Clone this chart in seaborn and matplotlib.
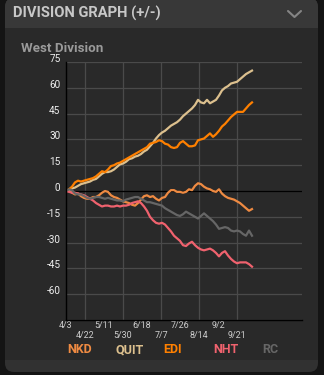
import matplotlib
matplotlib.use("Agg")
import matplotlib.pyplot as plt
import matplotlib.transforms as mtransforms
from matplotlib.patches import FancyBboxPatch, Rectangle
from matplotlib.lines import Line2D
import numpy as np
import pandas as pd
import seaborn as sns

plt.rcParams['font.family'] = ['Roboto', 'DejaVu Sans']

# ---------------- data ----------------
days = list(range(0, 187, 3))  # days since 4/3
teams = ['NKD', 'QUIT', 'EDI', 'NHT', 'RC']
team_colors = ['#ee8a42', '#dcc08e', '#ff8000', '#f0626e', '#666666']

nkd = [0, 0.5, -1, -2, -1.5, -3, -4, -4.5, -4.5, -3.5,
       -3.5, -2.5, -1, 0, -0.5, -2.5, -3.5, -4, -5, -6,
       -6.5, -7, -8, -8.5, -7, -5, -3, -2.5, -3.5, -3,
       -4.5, -5.5, -4, -3.5, -1, 0.5, 0.5, -0.5, -0.5, -1,
       -0.5, 1, 0.5, 3, 4.5, 4, 2.5, 1.5, 1, 0,
       -0.5, 1, -1.5, -3, -4, -4.5, -5, -6, -7, -8.5,
       -10, -11.5, -10.5]
quit_ = [0, 0.5, 1.5, 2, 3, 4, 4.5, 5, 5.5, 6.5,
         7, 8.5, 10, 11, 11, 11.5, 12.5, 14, 15.5, 16,
         17, 18.5, 19, 20, 20.5, 21.5, 23, 24, 26, 28,
         30.5, 32.5, 34, 35, 36.5, 38, 39, 40, 41.5, 43.5,
         45, 46.5, 48, 50, 53, 51.5, 51, 53, 51, 52,
         53, 55.5, 58.5, 60, 61, 62.5, 63, 63.5, 65, 66.5,
         68, 69, 70]
edi = [0, 1, 2.5, 5, 6, 5.5, 6, 6.5, 7, 7.5,
       8.5, 10, 11.5, 11, 12.5, 14.5, 15, 16, 16.5, 17.5,
       18.5, 19.5, 20.5, 21.5, 22.5, 23.5, 24.5, 25.5, 27.5, 28,
       28.5, 29.5, 29, 27.5, 27, 25.5, 25, 25.5, 28, 29,
       27.5, 26, 26, 26.5, 29.5, 30, 30.5, 32, 33.5, 31.5,
       33, 35, 37.5, 39, 41, 43, 44.5, 46, 46, 46,
       48, 50, 51.5]
nht = [0, -0.5, -1, -1, -1.5, -2, -2.5, -3.5, -4.5, -5.5,
       -7, -8, -9, -8.5, -8.5, -9, -9, -8.5, -9, -8.5,
       -8.5, -8, -7, -6.5, -6, -7, -9, -11.5, -15, -17,
       -18.5, -19, -18.5, -19.5, -21.5, -23.5, -26, -27.5, -29, -31.5,
       -32, -30.5, -29.5, -31.5, -33, -34, -34.5, -34, -33.5, -34.5,
       -36, -38, -36, -35, -37.5, -39.5, -41, -42, -41.5, -41.5,
       -41.5, -42.5, -44]
rc = [0, 1, 0.5, -1.5, -2, -2, -3, -4, -4.5, -4,
      -3.5, -3.5, -4, -4.5, -4, -4.5, -5, -5.5, -5.5, -6,
      -5, -4.5, -4, -3.5, -3.5, -4.5, -5.5, -6.5, -6.5, -7,
      -7.5, -8, -8.5, -10, -11, -12, -13, -14, -14.5, -13.5,
      -12, -13, -14, -15, -16, -14.5, -13, -14.5, -16, -17.5,
      -19.5, -22, -21.5, -21, -21.5, -23, -23.5, -23, -23.5, -25,
      -26, -23, -26]

tick_days = [0, 19, 38, 57, 76, 95, 114, 133, 152, 171]
tick_labels = ['4/3', '4/22', '5/11', '5/30', '6/18', '7/7', '7/26', '8/14', '9/2', '9/21']
grid_days = [19, 57, 95, 133, 171]
y_ticks = [-60, -45, -30, -15, 0, 15, 30, 45, 60, 75]

series = {'NKD': nkd, 'QUIT': quit_, 'EDI': edi, 'NHT': nht, 'RC': rc}
df = pd.concat([pd.DataFrame({'day': days, 'value': v, 'team': k}) for k, v in series.items()],
               ignore_index=True)

# ---------------- figure / card ----------------
W, H = 324, 375
fig = plt.figure(figsize=(W / 100, H / 100), dpi=100)
fig.patch.set_facecolor('#141414')
T = fig.dpi_scale_trans

def px(x, y):
    return x / W, 1 - y / H

fig.patches.append(FancyBboxPatch((0.05, 0.03), 3.13, 3.74,
                                  boxstyle="round,pad=0,rounding_size=0.09",
                                  transform=T, fc='#313131', ec='none', zorder=-10))
fig.patches.append(FancyBboxPatch((0.05, 0.15), 3.13, 3.62,
                                  boxstyle="round,pad=0,rounding_size=0.09",
                                  transform=T, fc='#383838', ec='none', zorder=-9))
fig.patches.append(Rectangle((0.05, 0.15), 3.13, 3.32, transform=T,
                             fc='#292929', ec='none', zorder=-8))

# header
fig.text(*px(13, 13), 'DIVISION GRAPH (+/-)', fontsize=10.6, fontweight='bold',
         color='#c8c8c8', ha='left', va='center')
xa, ya = px(288, 11)
xb, yb = px(294.5, 17)
xc, yc = px(301, 11)
fig.lines.append(Line2D([xa, xb, xc], [ya, yb, yc], transform=fig.transFigure,
                        color='#858585', lw=1.5, solid_capstyle='round'))
fig.text(*px(21, 49), 'West Division', fontsize=9.6, fontweight='bold',
         color='#9a9a9a', ha='left', va='center')

# ---------------- axes ----------------
ax = fig.add_axes([66 / W, 1 - 320 / H, 236 / W, 258 / H])
ax.set_facecolor('none')

for y in range(-75, 76, 15):
    ax.axhline(y, color='#4a4a4a', lw=0.9, zorder=0.5)
for d in grid_days:
    ax.axvline(d, color='#4a4a4a', lw=0.9, zorder=0.5)
ax.axhline(0, color='black', lw=1.0, zorder=0.8)

sns.lineplot(data=df, x='day', y='value', hue='team', hue_order=teams,
             palette=team_colors, linewidth=1.6, legend=False, ax=ax,
             estimator=None, sort=False, zorder=2)

ax.set_xlim(0, 236)
ax.set_ylim(-75, 75)
for s in ['top', 'right']:
    ax.spines[s].set_visible(False)
for s in ['left', 'bottom']:
    ax.spines[s].set_color('black')
    ax.spines[s].set_linewidth(1.0)
    ax.spines[s].set_zorder(3)

ax.set_xlabel('')
ax.set_ylabel('')
ax.set_xticks([])
ax.set_yticks(y_ticks)
ax.set_yticklabels([str(v) for v in y_ticks], va='baseline')
ax.tick_params(axis='y', length=0, pad=4, labelsize=7.2, labelcolor='#eeeeee')

blend = mtransforms.blended_transform_factory(ax.transData, ax.transAxes)
for i, (d, lab) in enumerate(zip(tick_days, tick_labels)):
    ypx = 325 if i % 2 == 0 else 335
    ax.text(d, -(ypx - 320) / 258, lab, transform=blend, ha='center', va='center',
            fontsize=6.4, color='#cfcfcf', clip_on=False)

# ---------------- legend ----------------
legend_x = [80, 130, 173, 226, 270]
for name, col, lx in zip(teams, team_colors, legend_x):
    fig.text(*px(lx, 349.5), name, fontsize=9, fontweight='bold', color=col,
             ha='center', va='center')

fig.savefig('out.png', dpi=100, facecolor=fig.get_facecolor())
